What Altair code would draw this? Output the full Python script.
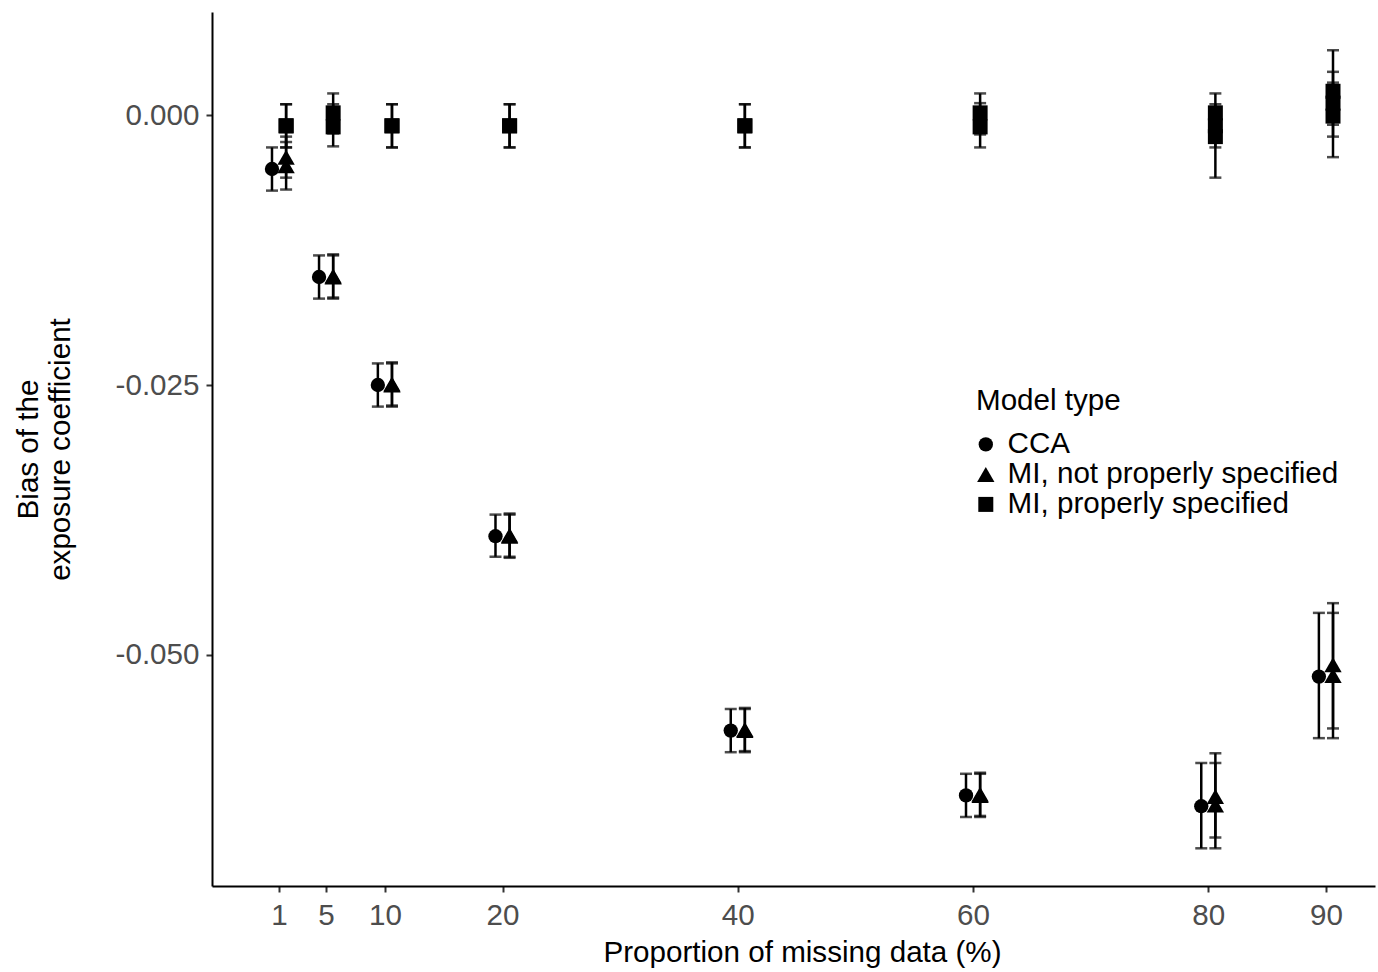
import altair as alt
import pandas as pd

proportions = [1, 5, 10, 20, 40, 60, 80, 90]
model_types = ["CCA", "MI, not properly specified", "MI, properly specified"]

# CCA
cca_est = [-0.0050, -0.0150, -0.0250, -0.0390, -0.0570, -0.0630, -0.0640, -0.0520]
cca_lo = [-0.0070, -0.0170, -0.0270, -0.0409, -0.0590, -0.0650, -0.0679, -0.0577]
cca_hi = [-0.0030, -0.0130, -0.0230, -0.0370, -0.0550, -0.0610, -0.0600, -0.0461]

# MI, not properly specified (two scenarios)
mi_np_a_est = [-0.0039, -0.0149, -0.0249, -0.0389, -0.0569, -0.0629, -0.0631, -0.0509]
mi_np_a_lo = [-0.0058, -0.0169, -0.0269, -0.0409, -0.0589, -0.0649, -0.0669, -0.0568]
mi_np_a_hi = [-0.0020, -0.0129, -0.0229, -0.0369, -0.0549, -0.0609, -0.0591, -0.0452]
mi_np_b_est = [-0.0047, -0.0150, -0.0250, -0.0390, -0.0570, -0.0630, -0.0639, -0.0519]
mi_np_b_lo = [-0.0069, -0.0170, -0.0270, -0.0410, -0.0590, -0.0650, -0.0679, -0.0577]
mi_np_b_hi = [-0.0025, -0.0130, -0.0230, -0.0370, -0.0550, -0.0610, -0.0600, -0.0461]

# MI, properly specified (two scenarios, plus a third at 80 and 90)
mi_p_a_est = [-0.0010, 0.0002, -0.0010, -0.0010, -0.0010, 0.0002, 0.0002, 0.0022]
mi_p_a_lo = [-0.0030, -0.0017, -0.0030, -0.0030, -0.0030, -0.0018, -0.0020, -0.0009]
mi_p_a_hi = [0.0010, 0.0020, 0.0010, 0.0010, 0.0010, 0.0020, 0.0020, 0.0060]
mi_p_b_est = [-0.0010, -0.0011, -0.0010, -0.0010, -0.0010, -0.0011, -0.0010, 0.0011]
mi_p_b_lo = [-0.0030, -0.0029, -0.0030, -0.0030, -0.0030, -0.0030, -0.0030, -0.0020]
mi_p_b_hi = [0.0010, 0.0010, 0.0010, 0.0010, 0.0010, 0.0011, 0.0010, 0.0040]
mi_p_c_props = [80, 90]
mi_p_c_est = [-0.0020, -0.0001]
mi_p_c_lo = [-0.0058, -0.0039]
mi_p_c_hi = [0.0000, 0.0030]

rows = []
def add(model, props, est, lo, hi):
    for p, e, l, h in zip(props, est, lo, hi):
        rows.append({"proportion": p, "model": model, "est": e, "lo": l, "hi": h})

add(model_types[0], proportions, cca_est, cca_lo, cca_hi)
add(model_types[1], proportions, mi_np_a_est, mi_np_a_lo, mi_np_a_hi)
add(model_types[1], proportions, mi_np_b_est, mi_np_b_lo, mi_np_b_hi)
add(model_types[2], proportions, mi_p_a_est, mi_p_a_lo, mi_p_a_hi)
add(model_types[2], proportions, mi_p_b_est, mi_p_b_lo, mi_p_b_hi)
add(model_types[2], mi_p_c_props, mi_p_c_est, mi_p_c_lo, mi_p_c_hi)
df = pd.DataFrame(rows)

FONT = "Liberation Sans"
FS = 29.6

xscale = alt.Scale(domain=[-4.7, 94.17], nice=False, zero=False)
yscale = alt.Scale(domain=[-0.07139, 0.00954], nice=False, zero=False)

base = alt.Chart(df).transform_calculate(
    xd="datum.proportion + (datum.model == 'CCA' ? -0.6 : 0.6)"
)

x_enc = alt.X(
    "xd:Q", scale=xscale,
    axis=alt.Axis(
        values=proportions, title="Proportion of missing data (%)",
        labelExpr="format(datum.value, 'd')", titleX=590, titleAlign="center",
    ),
)

rules = base.mark_rule(color="black", strokeWidth=2.5).encode(
    x=x_enc,
    y=alt.Y("lo:Q", scale=yscale,
            axis=alt.Axis(values=[-0.05, -0.025, 0.0],
                          labelExpr="replace(format(datum.value, '.3f'), '\u2212', '-')",
                          title=["Bias of the", "exposure coefficient"])),
    y2="hi:Q",
)
cap_lo = base.mark_tick(color="black", orient="horizontal", size=12, thickness=2.5).encode(
    x=alt.X("xd:Q", scale=xscale), y=alt.Y("lo:Q", scale=yscale)
)
cap_hi = base.mark_tick(color="black", orient="horizontal", size=12, thickness=2.5).encode(
    x=alt.X("xd:Q", scale=xscale), y=alt.Y("hi:Q", scale=yscale)
)

legend = alt.Legend(
    title="Model type", orient="none", legendX=764, legendY=375,
    titleFontSize=FS, titleFont=FONT, titleColor="black", titleFontWeight="normal",
    labelFontSize=FS, labelFont=FONT, labelColor="black", labelLimit=600,
    symbolFillColor="black", symbolStrokeColor="black",
    titlePadding=13, rowPadding=-1.5, labelOffset=7, symbolOffset=-5,
    padding=0,
)

points = base.mark_point(filled=True, color="black", opacity=1).encode(
    x=alt.X("xd:Q", scale=xscale),
    y=alt.Y("est:Q", scale=yscale),
    shape=alt.Shape(
        "model:N",
        scale=alt.Scale(domain=model_types, range=["circle", "triangle-up", "square"]),
        legend=legend,
    ),
    size=alt.Size(
        "model:N",
        scale=alt.Scale(type="ordinal", domain=model_types, range=[205, 300, 225]),
        legend=legend,
    ),
)

chart = alt.layer(rules, cap_lo, cap_hi, points).properties(
    width=1163, height=874,
    padding={"left": 212, "top": 12, "right": 3, "bottom": 86},
    autosize=alt.AutoSizeParams(type="none"),
    background="white",
).configure_view(stroke=None).configure_axis(
    grid=False, domainColor="black", domainWidth=2, tickColor="#333333", tickWidth=2,
    tickSize=6, labelFont=FONT, labelFontSize=FS, labelColor="#4d4d4d",
    titleFont=FONT, titleFontSize=FS, titleColor="black", titleFontWeight="normal",
    labelPadding=7,
).configure_axisX(labelPadding=9, titlePadding=9).configure_axisY(titlePadding=40, titleLineHeight=32)

chart.save("out.html", embed_options={"renderer": "svg", "actions": False})
